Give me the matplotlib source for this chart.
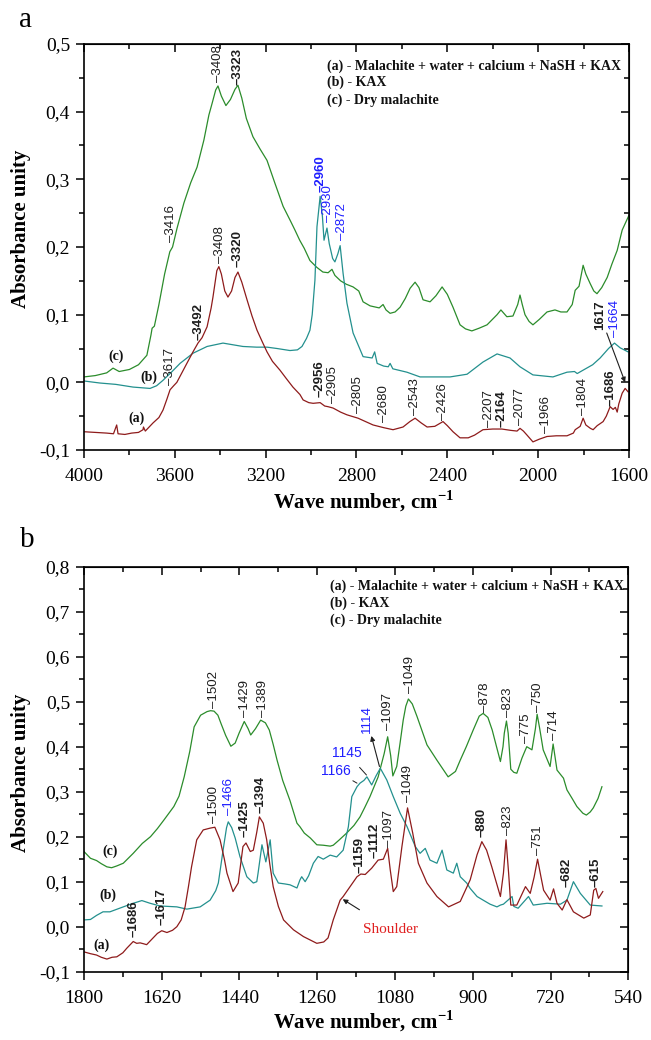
import matplotlib
matplotlib.use("Agg")

import matplotlib.pyplot as plt
from matplotlib.ticker import MultipleLocator, FuncFormatter

SERIF = ["Liberation Serif", "DejaVu Serif"]
SANS = ["Liberation Sans", "DejaVu Sans"]

GREEN = "#2b8c2b"
TEAL = "#23908e"
RED = "#8e1b1b"
BLUE = "#1f1fff"
INK = "#1e1e1e"

# ── Panel a : 4000-1600 cm-1 ──────────────────────────────────────────────────
wn_a_dry = [4000, 3950, 3900, 3872, 3845, 3800, 3760, 3723, 3705, 3700, 3690, 3670,
            3645, 3622, 3610, 3590, 3560, 3530, 3502, 3472, 3450, 3436, 3420, 3410,
            3395, 3375, 3355, 3335, 3322, 3305, 3285, 3256, 3225, 3194, 3160, 3123,
            3090, 3071, 3050, 3030, 3005, 2975, 2948, 2925, 2908, 2895, 2870, 2845,
            2815, 2790, 2771, 2740, 2700, 2683, 2670, 2652, 2630, 2608, 2585, 2564,
            2542, 2525, 2507, 2476, 2450, 2423, 2400, 2375, 2344, 2320, 2292, 2260,
            2225, 2181, 2164, 2138, 2111, 2090, 2080, 2070, 2058, 2040, 2023, 1995,
            1961, 1926, 1900, 1873, 1850, 1837, 1820, 1802, 1790, 1771, 1755, 1741,
            1720, 1696, 1675, 1652, 1630, 1600]
ab_a_dry = [0.008, 0.010, 0.014, 0.021, 0.016, 0.019, 0.026, 0.040, 0.070, 0.080, 0.083, 0.115,
            0.160, 0.193, 0.200, 0.228, 0.265, 0.295, 0.318, 0.358, 0.395, 0.412, 0.432, 0.438,
            0.423, 0.409, 0.418, 0.433, 0.439, 0.420, 0.390, 0.363, 0.345, 0.328, 0.295, 0.260,
            0.238, 0.225, 0.210, 0.198, 0.180, 0.170, 0.163, 0.162, 0.167, 0.158, 0.150, 0.145,
            0.141, 0.135, 0.119, 0.113, 0.110, 0.115, 0.107, 0.102, 0.104, 0.111, 0.124, 0.139,
            0.148, 0.140, 0.122, 0.119, 0.128, 0.141, 0.130, 0.111, 0.085, 0.079, 0.076, 0.080,
            0.085, 0.100, 0.107, 0.097, 0.098, 0.115, 0.129, 0.115, 0.100, 0.090, 0.085, 0.093,
            0.104, 0.107, 0.104, 0.104, 0.115, 0.136, 0.142, 0.173, 0.160, 0.146, 0.135, 0.131,
            0.140, 0.155, 0.175, 0.195, 0.225, 0.247]

wn_a_kax = [4000, 3930, 3860, 3784, 3709, 3680, 3652, 3615, 3577, 3520, 3458, 3388,
            3300, 3240, 3194, 3150, 3093, 3060, 3040, 3020, 3005, 2995, 2983, 2974,
            2960, 2950, 2943, 2930, 2920, 2905, 2895, 2882, 2872, 2859, 2842, 2815,
            2771, 2731, 2720, 2709, 2680, 2660, 2652, 2640, 2578, 2520, 2450, 2388,
            2313, 2243, 2181, 2124, 2080, 2023, 1935, 1873, 1840, 1828, 1802, 1760,
            1727, 1690, 1664, 1639, 1604]
ab_a_kax = [0.002, -0.001, -0.003, -0.007, -0.009, -0.005, 0.003, 0.015, 0.028, 0.043, 0.053, 0.058,
            0.053, 0.052, 0.052, 0.050, 0.047, 0.048, 0.053, 0.065, 0.077, 0.100, 0.151, 0.230,
            0.275, 0.245, 0.210, 0.228, 0.205, 0.183, 0.178, 0.190, 0.202, 0.161, 0.117, 0.073,
            0.038, 0.036, 0.045, 0.028, 0.024, 0.023, 0.028, 0.020, 0.015, 0.008, 0.008, 0.008,
            0.012, 0.030, 0.042, 0.036, 0.023, 0.011, 0.008, 0.015, 0.016, 0.013, 0.018, 0.026,
            0.036, 0.050, 0.058, 0.051, 0.045]

wn_a_mix = [4000, 3950, 3900, 3870, 3856, 3850, 3820, 3790, 3760, 3740, 3738, 3730,
            3696, 3670, 3652, 3635, 3621, 3605, 3591, 3547, 3520, 3498, 3480, 3458,
            3440, 3432, 3415, 3406, 3395, 3380, 3366, 3350, 3335, 3322, 3305, 3282,
            3260, 3238, 3215, 3194, 3170, 3137, 3110, 3080, 3049, 3035, 3010, 2991,
            2960, 2940, 2925, 2903, 2870, 2842, 2793, 2760, 2727, 2680, 2639, 2595,
            2565, 2542, 2515, 2489, 2455, 2419, 2400, 2375, 2344, 2308, 2280, 2243,
            2200, 2160, 2120, 2093, 2080, 2065, 2049, 2023, 1995, 1961, 1920, 1873,
            1845, 1837, 1815, 1802, 1790, 1770, 1758, 1740, 1714, 1700, 1683, 1670,
            1660, 1652, 1645, 1630, 1617, 1604]
ab_a_mix = [-0.073, -0.074, -0.075, -0.076, -0.063, -0.076, -0.077, -0.075, -0.074, -0.070, -0.066, -0.072,
            -0.060, -0.052, -0.041, -0.025, -0.011, -0.005, 0.000, 0.028, 0.045, 0.058, 0.066, 0.082,
            0.110, 0.126, 0.165, 0.171, 0.160, 0.135, 0.126, 0.135, 0.155, 0.163, 0.148, 0.122,
            0.098, 0.077, 0.060, 0.045, 0.031, 0.018, 0.006, -0.007, -0.018, -0.026, -0.030, -0.031,
            -0.030, -0.035, -0.036, -0.038, -0.044, -0.048, -0.053, -0.058, -0.063, -0.067, -0.070, -0.066,
            -0.058, -0.053, -0.060, -0.066, -0.065, -0.058, -0.064, -0.073, -0.082, -0.082, -0.078, -0.070,
            -0.069, -0.069, -0.071, -0.072, -0.068, -0.072, -0.078, -0.088, -0.084, -0.080, -0.079, -0.079,
            -0.075, -0.070, -0.065, -0.053, -0.063, -0.068, -0.070, -0.064, -0.058, -0.050, -0.036, -0.040,
            -0.037, -0.044, -0.032, -0.016, -0.009, -0.014]

# (label, wavenumber, absorbance at foot of tick, colour, bold)
peaks_a = [("3408", 3410, 0.444, INK, False), ("3323", 3322, 0.440, INK, True),
           ("3416", 3617, 0.207, INK, False), ("3408", 3401, 0.176, INK, False),
           ("3320", 3322, 0.170, INK, True), ("3492", 3494, 0.063, INK, True),
           ("3617", 3621, -0.004, INK, False), ("2960", 2957, 0.281, BLUE, True),
           ("2930", 2925, 0.237, BLUE, False), ("2872", 2864, 0.210, BLUE, False),
           ("2956", 2962, -0.022, INK, True), ("2905", 2902, -0.031, INK, False),
           ("2805", 2793, -0.045, INK, False), ("2680", 2679, -0.058, INK, False),
           ("2543", 2542, -0.048, INK, False), ("2426", 2419, -0.056, INK, False),
           ("2207", 2218, -0.066, INK, False), ("2164", 2160, -0.066, INK, True),
           ("2077", 2080, -0.063, INK, False), ("1966", 1966, -0.075, INK, False),
           ("1804", 1802, -0.048, INK, False), ("1686", 1679, -0.035, INK, True),
           ("1664", 1661, 0.067, BLUE, False)]

# ── Panel b : 1800-540 cm-1 ───────────────────────────────────────────────────
wn_b_dry = [1800, 1785, 1771, 1760, 1747, 1736, 1724, 1709, 1686, 1665, 1646, 1630,
            1615, 1592, 1580, 1568, 1555, 1545, 1530, 1515, 1507, 1499, 1490, 1483,
            1472, 1460, 1450, 1441, 1429, 1420, 1414, 1403, 1391, 1380, 1371, 1362,
            1353, 1340, 1323, 1307, 1300, 1290, 1276, 1261, 1246, 1230, 1223, 1210,
            1192, 1175, 1161, 1150, 1138, 1119, 1105, 1097, 1090, 1085, 1076, 1068,
            1061, 1055, 1049, 1040, 1029, 1006, 983, 957, 940, 929, 915, 899,
            885, 876, 865, 855, 845, 836, 830, 827, 822, 818, 812, 805,
            798, 786, 775, 763, 755, 751, 745, 737, 721, 714, 705, 690,
            682, 670, 659, 645, 637, 628, 621, 610, 601]
ab_b_dry = [0.167, 0.152, 0.147, 0.140, 0.133, 0.131, 0.135, 0.141, 0.163, 0.185, 0.200, 0.218,
            0.237, 0.267, 0.290, 0.333, 0.390, 0.444, 0.470, 0.478, 0.480, 0.479, 0.470, 0.452,
            0.425, 0.401, 0.408, 0.430, 0.456, 0.440, 0.426, 0.440, 0.459, 0.453, 0.437, 0.405,
            0.370, 0.325, 0.280, 0.230, 0.222, 0.208, 0.197, 0.182, 0.181, 0.179, 0.181, 0.192,
            0.208, 0.225, 0.244, 0.265, 0.289, 0.333, 0.385, 0.422, 0.380, 0.335, 0.356, 0.410,
            0.459, 0.490, 0.506, 0.495, 0.467, 0.404, 0.370, 0.333, 0.345, 0.370, 0.400, 0.437,
            0.468, 0.474, 0.465, 0.437, 0.400, 0.367, 0.400, 0.430, 0.457, 0.430, 0.350, 0.343,
            0.341, 0.375, 0.400, 0.393, 0.440, 0.472, 0.440, 0.393, 0.356, 0.406, 0.348, 0.330,
            0.304, 0.285, 0.267, 0.252, 0.248, 0.255, 0.264, 0.285, 0.311]

wn_b_kax = [1800, 1785, 1771, 1756, 1740, 1709, 1686, 1666, 1647, 1624, 1585, 1562,
            1531, 1508, 1495, 1489, 1478, 1470, 1466, 1458, 1450, 1439, 1423, 1408,
            1400, 1397, 1388, 1379, 1369, 1362, 1350, 1335, 1323, 1307, 1300, 1296,
            1288, 1280, 1269, 1258, 1246, 1230, 1215, 1200, 1188, 1180, 1168, 1161,
            1152, 1145, 1134, 1124, 1114, 1099, 1084, 1068, 1052, 1033, 1022, 1010,
            999, 983, 971, 960, 945, 937, 929, 914, 906, 890, 876, 860,
            844, 836, 829, 809, 805, 795, 771, 760, 728, 697, 682, 667,
            651, 628, 601]
ab_b_kax = [0.015, 0.016, 0.025, 0.033, 0.033, 0.044, 0.052, 0.058, 0.052, 0.046, 0.044, 0.039,
            0.044, 0.059, 0.080, 0.097, 0.170, 0.220, 0.233, 0.220, 0.197, 0.156, 0.111, 0.097,
            0.100, 0.119, 0.182, 0.144, 0.193, 0.119, 0.097, 0.095, 0.093, 0.086, 0.104, 0.111,
            0.100, 0.113, 0.141, 0.156, 0.150, 0.159, 0.155, 0.170, 0.222, 0.289, 0.311, 0.319,
            0.325, 0.333, 0.315, 0.335, 0.352, 0.326, 0.289, 0.252, 0.222, 0.178, 0.163, 0.174,
            0.148, 0.141, 0.170, 0.126, 0.119, 0.141, 0.111, 0.097, 0.085, 0.067, 0.059, 0.050,
            0.044, 0.048, 0.050, 0.067, 0.045, 0.041, 0.067, 0.048, 0.052, 0.050, 0.059, 0.100,
            0.074, 0.048, 0.046]

wn_b_mix = [1800, 1785, 1771, 1760, 1747, 1735, 1724, 1710, 1701, 1686, 1678, 1670,
            1662, 1655, 1640, 1630, 1620, 1608, 1595, 1585, 1575, 1566, 1558, 1551,
            1539, 1524, 1508, 1497, 1485, 1475, 1469, 1455, 1443, 1432, 1425, 1415,
            1408, 1400, 1394, 1385, 1377, 1370, 1362, 1350, 1338, 1315, 1292, 1261,
            1245, 1235, 1223, 1207, 1200, 1184, 1168, 1159, 1149, 1134, 1119, 1107,
            1097, 1091, 1084, 1076, 1064, 1051, 1039, 1026, 1006, 983, 956, 929,
            906, 890, 879, 868, 856, 836, 829, 823, 817, 812, 798, 778,
            767, 758, 750, 742, 736, 721, 713, 705, 693, 682, 667, 643,
            628, 620, 615, 609, 599]
ab_b_mix = [-0.056, -0.060, -0.063, -0.068, -0.072, -0.068, -0.067, -0.058, -0.048, -0.033, -0.037, -0.036,
            -0.038, -0.040, -0.025, -0.015, -0.009, -0.013, -0.008, 0.000, 0.015, 0.044, 0.090, 0.133,
            0.193, 0.215, 0.219, 0.221, 0.193, 0.150, 0.119, 0.078, 0.097, 0.178, 0.186, 0.167,
            0.170, 0.210, 0.244, 0.230, 0.193, 0.140, 0.089, 0.045, 0.015, -0.007, -0.022, -0.037,
            -0.034, -0.025, 0.015, 0.059, 0.067, 0.089, 0.111, 0.117, 0.116, 0.130, 0.148, 0.150,
            0.174, 0.126, 0.078, 0.089, 0.178, 0.264, 0.208, 0.141, 0.097, 0.067, 0.044, 0.056,
            0.104, 0.160, 0.189, 0.170, 0.133, 0.067, 0.119, 0.193, 0.119, 0.048, 0.048, 0.089,
            0.074, 0.110, 0.150, 0.110, 0.081, 0.059, 0.084, 0.052, 0.037, 0.060, 0.033, 0.019,
            0.026, 0.081, 0.085, 0.063, 0.078]

peaks_b = [("1502", 1500, 0.485, INK, False), ("1429", 1427, 0.467, INK, False),
           ("1389", 1385, 0.467, INK, False), ("1097", 1097, 0.437, INK, False),
           ("1049", 1046, 0.519, INK, False), ("878", 871, 0.476, INK, False),
           ("823", 819, 0.465, INK, False), ("775", 776, 0.409, INK, False),
           ("750", 749, 0.478, INK, False), ("714", 713, 0.415, INK, False),
           ("1500", 1499, 0.230, INK, False), ("1466", 1464, 0.248, BLUE, False),
           ("1425", 1427, 0.200, INK, True), ("1394", 1392, 0.252, INK, True),
           ("1686", 1686, -0.022, INK, True), ("1617", 1620, 0.004, INK, True),
           ("1159", 1161, 0.119, INK, True), ("1112", 1127, 0.152, INK, True),
           ("1097", 1094, 0.178, INK, False), ("1049", 1051, 0.278, INK, False),
           ("880", 879, 0.200, INK, True), ("823", 819, 0.204, INK, False),
           ("751", 749, 0.159, INK, False), ("682", 682, 0.089, INK, True),
           ("615", 615, 0.089, INK, True)]

LEGEND = ["(a) - Malachite + water + calcium + NaSH + KAX",
          "(b) - KAX",
          "(c) - Dry malachite"]


def comma(v, pos):
    return f"{v:.1f}".replace(".", ",")


def style_axes(ax, xlim, ylim, xmaj, xmin, ymaj):
    ax.set_xlim(*xlim)
    ax.set_ylim(*ylim)
    ax.xaxis.set_major_locator(MultipleLocator(xmaj))
    ax.xaxis.set_minor_locator(MultipleLocator(xmin))
    ax.yaxis.set_major_locator(MultipleLocator(ymaj))
    ax.yaxis.set_minor_locator(MultipleLocator(ymaj / 2))
    ax.yaxis.set_major_formatter(FuncFormatter(comma))
    ax.xaxis.set_major_formatter(FuncFormatter(lambda v, p: f"{v:.0f}"))
    for s in ax.spines.values():
        s.set_linewidth(1.2)
    ax.tick_params(which="both", direction="out", width=1.1, pad=4)
    ax.tick_params(axis="x", which="major", pad=7)
    ax.tick_params(which="major", length=6, labelsize=14)
    ax.tick_params(which="minor", length=3.5)
    for lab in ax.get_xticklabels() + ax.get_yticklabels():
        lab.set_fontfamily(SERIF)
    # mirrored ticks pointing inwards
    top = ax.secondary_xaxis("top")
    right = ax.secondary_yaxis("right")
    for sec in (top, right):
        sec.tick_params(which="both", direction="in", width=1.1, labelsize=0)
        sec.tick_params(which="major", length=6)
        sec.tick_params(which="minor", length=3.5)
    top.xaxis.set_major_locator(MultipleLocator(xmaj))
    top.xaxis.set_minor_locator(MultipleLocator(xmin))
    top.set_xticklabels([])
    right.yaxis.set_major_locator(MultipleLocator(ymaj))
    right.yaxis.set_minor_locator(MultipleLocator(ymaj / 2))
    right.set_yticklabels([])
    ax.set_xlabel("Wave number, cm$^{\\mathbf{-1}}$", family=SERIF, fontsize=15,
                  fontweight="bold")
    ax.set_ylabel("Absorbance unity", family=SERIF, fontsize=15, fontweight="bold")


def peak_labels(ax, peaks):
    for text, x, y, col, bold in peaks:
        ax.text(x, y, "\u2013" + text, rotation=90, ha="center", va="bottom",
                fontsize=9.5, family=SANS, color=col,
                fontweight="bold" if bold else "normal")


def legend_block(ax, x0, ys):
    for line, y in zip(LEGEND, ys):
        ax.text(x0, y, line, transform=ax.transAxes, ha="left", va="center",
                family=SERIF, fontsize=10, fontweight="bold", color="#111111")


def curve_tags(ax, spots):
    for tag, (x, y) in zip(["(c)", "(b)", "(a)"], spots):
        ax.text(x, y, tag, ha="center", va="center", family=SERIF, fontsize=10,
                fontweight="bold", color="#111111")


plt.rcParams["mathtext.fontset"] = "custom"
plt.rcParams["mathtext.bf"] = "Liberation Serif:bold"
plt.rcParams["mathtext.rm"] = "Liberation Serif"

fig = plt.figure(figsize=(6.51, 10.4), dpi=100)
ax_a = fig.add_axes([0.129, 0.5673, 0.8372, 0.3904])
ax_b = fig.add_axes([0.129, 0.0657, 0.8361, 0.3894])

# ── panel a ──
ax_a.plot(wn_a_dry, ab_a_dry, color=GREEN, lw=0.9)
ax_a.plot(wn_a_kax, ab_a_kax, color=TEAL, lw=0.9)
ax_a.plot(wn_a_mix, ab_a_mix, color=RED, lw=0.9)
style_axes(ax_a, (4000, 1600), (-0.1, 0.5), 400, 200, 0.1)
peak_labels(ax_a, peaks_a)
ax_a.annotate("1617", xy=(1617, 0.0), xytext=(1727, 0.077), rotation=90,
              ha="center", va="bottom", fontsize=9.5, family=SANS, fontweight="bold",
              color=INK, arrowprops=dict(arrowstyle="-|>", color=INK, lw=0.8,
                                         mutation_scale=7, shrinkA=0, shrinkB=0))
legend_block(ax_a, 0.446, [0.946, 0.906, 0.862])
curve_tags(ax_a, [(3860, 0.039), (3714, 0.008), (3767, -0.053)])
ax_a.xaxis.set_label_coords(0.514, -0.094)
ax_a.yaxis.set_label_coords(-0.097, 0.544)
fig.text(25 / 651, 1 - 20 / 1040, "a", family=SERIF, fontsize=21,
         ha="center", va="center")

# ── panel b ──
ax_b.plot(wn_b_dry, ab_b_dry, color=GREEN, lw=0.9)
ax_b.plot(wn_b_kax, ab_b_kax, color=TEAL, lw=0.9)
ax_b.plot(wn_b_mix, ab_b_mix, color=RED, lw=0.9)
style_axes(ax_b, (1800, 540), (-0.1, 0.8), 180, 90, 0.1)
peak_labels(ax_b, peaks_b)
ax_b.annotate("1114", xy=(1116, 0.356), xytext=(1145, 0.43), rotation=90,
              ha="center", va="bottom", fontsize=9.5, family=SANS, color=BLUE,
              arrowprops=dict(arrowstyle="<|-", color=INK, lw=0.8,
                              mutation_scale=7, shrinkA=0, shrinkB=0))
ax_b.annotate("1145", xy=(1146, 0.337), xytext=(1191, 0.385), ha="center",
              va="center", fontsize=10, family=SANS, color=BLUE,
              arrowprops=dict(arrowstyle="-", color=INK, lw=0.7, shrinkA=4, shrinkB=0))
ax_b.annotate("1166", xy=(1168, 0.319), xytext=(1217, 0.346), ha="center",
              va="center", fontsize=10, family=SANS, color=BLUE,
              arrowprops=dict(arrowstyle="-", color=INK, lw=0.7, shrinkA=4, shrinkB=0))
ax_b.annotate("Shoulder", xy=(1201, 0.061), xytext=(1090, -0.006), ha="center",
              va="center", fontsize=11, family=SERIF, color="#e02020",
              arrowprops=dict(arrowstyle="-|>", color=INK, lw=0.8, mutation_scale=7,
                              shrinkA=14, shrinkB=0))
legend_block(ax_b, 0.452, [0.951, 0.910, 0.868])
curve_tags(ax_b, [(1740, 0.167), (1744, 0.070), (1759, -0.041)])
ax_b.xaxis.set_label_coords(0.514, -0.09)
ax_b.yaxis.set_label_coords(-0.097, 0.49)
fig.text(27 / 651, 1 - 540 / 1040, "b", family=SERIF, fontsize=21,
         ha="center", va="center")

fig.savefig("out.png", dpi=100)
